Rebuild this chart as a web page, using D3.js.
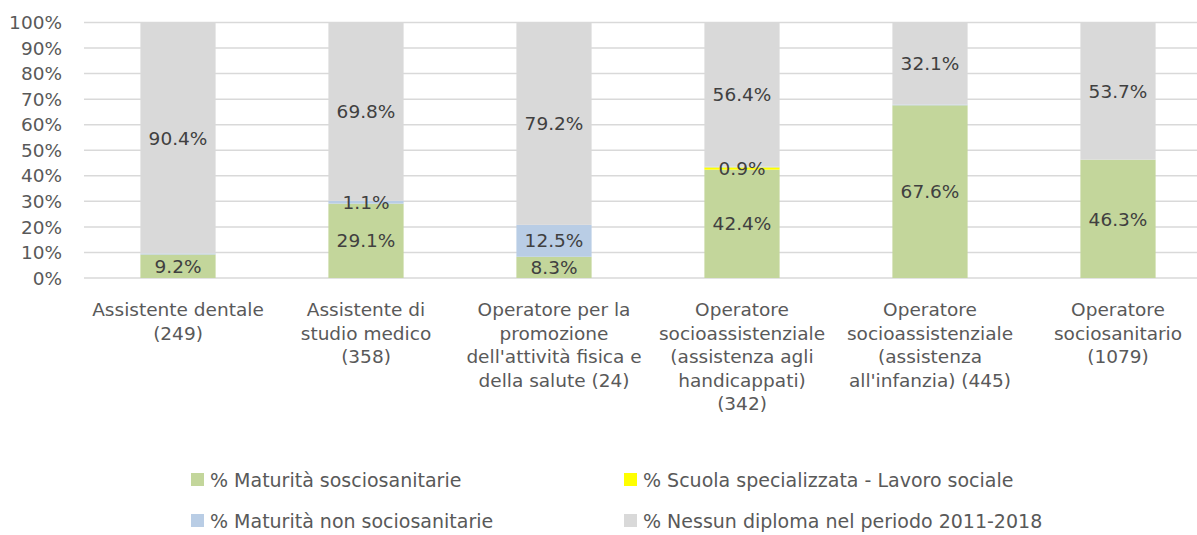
<!DOCTYPE html>
<html>
<head>
<meta charset="utf-8">
<script src="https://cdn.jsdelivr.net/npm/d3@7"></script>
<style>
  body { margin: 0; background: #fff; }
  svg { display: block; font-family: "DejaVu Sans", sans-serif; }
</style>
</head>
<body>
<div id="chart"></div>
<script>
// Categories (wrapped as in the original)
const categories = [
    ["Assistente dentale", "(249)"],
    ["Assistente di", "studio medico", "(358)"],
    ["Operatore per la", "promozione", "dell'attività fisica e", "della salute (24)"],
    ["Operatore", "socioassistenziale", "(assistenza agli", "handicappati)", "(342)"],
    ["Operatore", "socioassistenziale", "(assistenza", "all'infanzia) (445)"],
    ["Operatore", "sociosanitario", "(1079)"]
];

const seriesNames = [
    "% Maturità sosciosanitarie",
    "% Scuola specializzata - Lavoro sociale",
    "% Maturità non sociosanitarie",
    "% Nessun diploma nel periodo 2011-2018"
];

// Series values (percent)
const maturitaSocio = [9.2, 29.1, 8.3, 42.4, 67.6, 46.3];
const scuolaSpec = [0, 0, 0, 0.9, 0, 0];
const maturitaNonSocio = [0.4, 1.1, 12.5, 0.3, 0.3, 0];
const nessunDiploma = [90.4, 69.8, 79.2, 56.4, 32.1, 53.7];

const yTicks = [0, 10, 20, 30, 40, 50, 60, 70, 80, 90, 100];

const colors = ["#c3d69b", "#ffff00", "#b9cde5", "#d9d9d9"];

const W = 1197, H = 535;
const plot = { left: 84, right: 1212, top: 22.5, bottom: 278 };

const svg = d3.select("#chart")
    .append("svg")
    .attr("width", W)
    .attr("height", H);

// Build rows for the stack
const keys = ["s0", "s1", "s2", "s3"];
const rows = categories.map((c, i) => ({
    idx: i,
    s0: maturitaSocio[i],
    s1: scuolaSpec[i],
    s2: maturitaNonSocio[i],
    s3: nessunDiploma[i]
}));

const x = d3.scaleBand()
    .domain(d3.range(categories.length))
    .range([plot.left, plot.right])
    .paddingInner(0.6)
    .paddingOuter(0.3);

const y = d3.scaleLinear()
    .domain([0, 100])
    .range([plot.bottom, plot.top]);

// Gridlines
svg.append("g")
    .selectAll("line")
    .data(yTicks)
    .join("line")
    .attr("x1", plot.left)
    .attr("x2", plot.right)
    .attr("y1", d => y(d))
    .attr("y2", d => y(d))
    .attr("stroke", "#d9d9d9")
    .attr("stroke-width", 1.5);

// Y axis labels
svg.append("g")
    .selectAll("text")
    .data(yTicks)
    .join("text")
    .attr("x", 62)
    .attr("y", d => y(d))
    .attr("dy", "0.36em")
    .attr("text-anchor", "end")
    .attr("font-size", 18.5)
    .attr("fill", "#595959")
    .text(d => d + "%");

// Stacked bars
const stacked = d3.stack().keys(keys)(rows);

const layers = svg.append("g")
    .selectAll("g")
    .data(stacked)
    .join("g")
    .attr("fill", (d, i) => colors[i]);

layers.selectAll("rect")
    .data(d => d)
    .join("rect")
    .attr("x", d => x(d.data.idx))
    .attr("width", x.bandwidth())
    .attr("y", d => y(d[1]))
    .attr("height", d => y(d[0]) - y(d[1]));

// Data labels
const labels = svg.append("g");
stacked.forEach(layer => {
    layer.forEach(d => {
        const v = d[1] - d[0];
        if (v < 0.5) return;
        labels.append("text")
            .attr("x", x(d.data.idx) + x.bandwidth() / 2)
            .attr("y", y((d[0] + d[1]) / 2))
            .attr("dy", "0.36em")
            .attr("text-anchor", "middle")
            .attr("font-size", 18.5)
            .attr("fill", "#404040")
            .text(d3.format(".1f")(v) + "%");
    });
});

// Category labels
const catG = svg.append("g")
    .selectAll("text")
    .data(categories)
    .join("text")
    .attr("text-anchor", "middle")
    .attr("font-size", 18.5)
    .attr("fill", "#595959");

catG.selectAll("tspan")
    .data((d, i) => d.map(line => ({ line, i })))
    .join("tspan")
    .attr("x", d => x(d.i) + x.bandwidth() / 2)
    .attr("y", (d, j) => 316 + j * 23.5)
    .text(d => d.line);

// Legend
const legendPos = [[191, 473], [624, 473], [191, 514], [624, 514]];
const legend = svg.append("g")
    .selectAll("g")
    .data(seriesNames)
    .join("g")
    .attr("transform", (d, i) => `translate(${legendPos[i][0]},${legendPos[i][1]})`);

legend.append("rect")
    .attr("width", 13)
    .attr("height", 13)
    .attr("fill", (d, i) => colors[i]);

legend.append("text")
    .attr("x", 19)
    .attr("y", 7)
    .attr("dy", "0.36em")
    .attr("font-size", 19)
    .attr("fill", "#595959")
    .text(d => d);
</script>
</body>
</html>
